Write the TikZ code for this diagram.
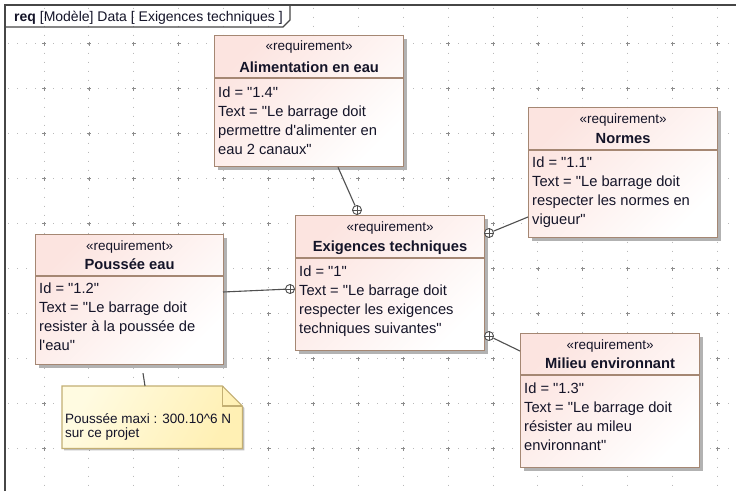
\documentclass[tikz,border=0pt]{standalone}
\usepackage{fontspec}
\setmainfont{Liberation Sans}[Ligatures=TeXOff]
\usetikzlibrary{shadows,calc}
\definecolor{boxborder}{RGB}{165,135,115}
\definecolor{boxpink}{RGB}{252,228,224}
\definecolor{txt}{RGB}{20,20,40}
\definecolor{gridc}{RGB}{185,185,185}
\definecolor{gridp}{RGB}{140,140,140}
\definecolor{notefillA}{RGB}{255,251,225}
\definecolor{notefillB}{RGB}{255,240,180}
\definecolor{noteborder}{RGB}{195,175,115}
\definecolor{linec}{RGB}{80,80,80}
\definecolor{framec}{RGB}{70,70,70}
\begin{document}
\begin{tikzpicture}[x=1pt,y=-1pt,
  reqbox/.style={draw=boxborder, line width=1.2pt, rectangle, inner sep=0pt, anchor=north west,
    top color=boxpink, bottom color=white, shading angle=45,
    drop shadow={shadow xshift=3pt, shadow yshift=-3pt, fill=black!30, opacity=1}},
  sepline/.style={draw=boxborder, line width=1.2pt},
  stereo/.style={font=\fontsize{13.5}{16}\selectfont, text=txt, inner sep=0pt, anchor=base},
  rname/.style={font=\bfseries\fontsize{14.7}{18}\selectfont, text=txt, inner sep=0pt, anchor=base},
  body/.style={font=\fontsize{14.7}{19}\selectfont, text=txt, inner sep=0pt, align=left, anchor=base west},
  notetext/.style={font=\fontsize{13.5}{14}\selectfont, text=txt, inner sep=0pt, align=left, anchor=base west},
  conn/.style={draw=linec, line width=1.1pt},
  contain/.style={circle, draw=linec, fill=white, line width=0.9pt, minimum size=9pt, inner sep=0pt},
  griddots/.style={draw=gridc, line width=1pt, dash pattern=on 1pt off 8pt},
  gridplus/.style={draw=gridp, line width=0.7pt},
  framel/.style={draw=framec, line width=1.4pt}
]
\fill[white] (0,0) rectangle (736,491);
\useasboundingbox (0,0) rectangle (736,491);

% grid
\foreach \i in {0,...,15} { \draw[griddots] (44+44.9*\i, 7.5) -- (44+44.9*\i, 491); }
\foreach \j in {0,...,9} { \draw[griddots] (8, 43.5+45*\j) -- (736, 43.5+45*\j); }
\foreach \i in {0,...,15} { \foreach \j in {0,...,9} {
  \draw[gridplus] (42+44.9*\i, 43.5+45*\j) -- (46+44.9*\i, 43.5+45*\j)
                  (44+44.9*\i, 41.5+45*\j) -- (44+44.9*\i, 45.5+45*\j); } }

% frame
\draw[framel] (5,491) -- (5,5) -- (736,5);
\draw[framel] (5,27) -- (283,27) -- (290,20) -- (290,5);
\node[anchor=base west, inner sep=0pt, font=\fontsize{14}{16}\selectfont, text=txt] (hdr) at (14,21)
  {\textbf{req} [Modèle] Data [ Exigences techniques ]};

% Alimentation en eau
\node[reqbox, minimum width=189pt, minimum height=131pt] (alim) at (214,35) {};
\draw[sepline] (alim.west |- 0,78) -- (alim.east |- 0,78);
\node[stereo] (alimS) at (alim.north |- 0,50) {«requirement»};
\node[rname] (alimN) at (alim.north |- 0,72) {Alimentation en eau};
\node[body] (alimB) at (218,154) {Id = "1.4"\\Text = "Le barrage doit\\permettre d'alimenter en\\eau 2 canaux"};

% Exigences techniques
\node[reqbox, minimum width=189pt, minimum height=135pt] (exig) at (295,215) {};
\draw[sepline] (exig.west |- 0,258) -- (exig.east |- 0,258);
\node[stereo] (exigS) at (exig.north |- 0,231) {«requirement»};
\node[rname] (exigN) at (exig.north |- 0,251) {Exigences techniques};
\node[body] (exigB) at (299,333) {Id = "1"\\Text = "Le barrage doit\\respecter les exigences\\techniques suivantes"};

% Poussee eau
\node[reqbox, minimum width=188pt, minimum height=130pt] (pousse) at (35,234) {};
\draw[sepline] (pousse.west |- 0,276) -- (pousse.east |- 0,276);
\node[stereo] (pousseS) at (pousse.north |- 0,250) {«requirement»};
\node[rname] (pousseN) at (pousse.north |- 0,269) {Poussée eau};
\node[body] (pousseB) at (39,350) {Id = "1.2"\\Text = "Le barrage doit\\resister à la poussée de\\l'eau"};

% Normes
\node[reqbox, minimum width=189pt, minimum height=130pt] (normes) at (528,107) {};
\draw[sepline] (normes.west |- 0,150) -- (normes.east |- 0,150);
\node[stereo] (normesS) at (normes.north |- 0,123) {«requirement»};
\node[rname] (normesN) at (normes.north |- 0,143) {Normes};
\node[body] (normesB) at (532,224) {Id = "1.1"\\Text = "Le barrage doit\\respecter les normes en\\vigueur"};

% Milieu environnant
\node[reqbox, minimum width=179pt, minimum height=134pt] (milieu) at (520,333) {};
\draw[sepline] (milieu.west |- 0,375) -- (milieu.east |- 0,375);
\node[stereo] (milieuS) at (milieu.north |- 0,349) {«requirement»};
\node[rname] (milieuN) at (milieu.north |- 0,368) {Milieu environnant};
\node[body] (milieuB) at (524,450) {Id = "1.3"\\Text = "Le barrage doit\\résister au mileu\\environnant"};

% Note
\node[inner sep=0pt, minimum width=180pt, minimum height=62pt, anchor=north west] (note) at (62,386) {};
\shade[left color=notefillA, right color=notefillB, shading angle=60, draw=noteborder, line width=1.2pt,
  drop shadow={shadow xshift=2pt, shadow yshift=-2pt, fill=black!25, opacity=1}]
  (note.north west) -- ($(note.north east)+(-20,0)$) -- ($(note.north east)+(0,20)$) -- (note.south east) -- (note.south west) -- cycle;
\draw[draw=noteborder, line width=1.2pt] ($(note.north east)+(-20,0)$) -- ($(note.north east)+(-20,20)$) -- ($(note.north east)+(0,20)$);
\node[notetext] (noteT) at (65,437) {Poussée maxi : 300.10\^{}6 N\\sur ce projet};
\draw[conn] ($(pousse.south west)+(108,8)$) -- ($(note.north west)+(83,0)$);

% containment connectors
\node[contain] (c1) at (357,210) {};
\node[contain] (c2) at (489,233) {};
\node[contain] (c3) at (290,289) {};
\node[contain] (c4) at (489,336) {};
\foreach \c in {c1,c2,c3,c4} { \draw[draw=linec, line width=0.9pt] (\c.north) -- (\c.south) (\c.west) -- (\c.east); }
\draw[conn] (c1) -- ($(alim.south west)+(124,0)$);
\draw[conn] (c2) -- ($(normes.north west)+(0,110)$);
\draw[conn] (c3) -- ($(pousse.north west)+(188,58)$);
\draw[conn] (c4) -- ($(milieu.north west)+(0,18)$);
\end{tikzpicture}
\end{document}
